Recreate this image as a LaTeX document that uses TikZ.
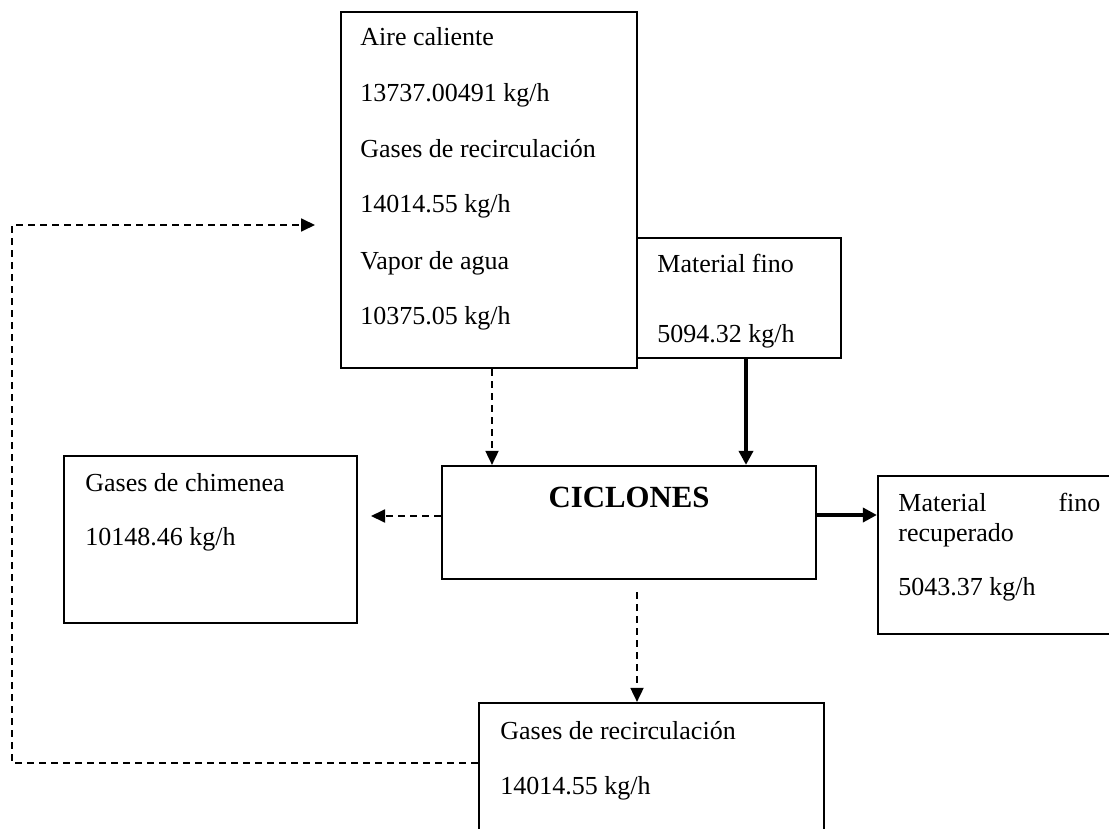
\documentclass[tikz,border=0pt]{standalone}
\usepackage{fontspec}
\setmainfont{Liberation Serif}
\usetikzlibrary{arrows.meta}
\tikzset{
  caja/.style={draw=black, line width=1.1pt, inner sep=0pt},
  txt/.style={anchor=base west, inner sep=0pt, font=\fontsize{13}{15}\selectfont},
  titulo/.style={anchor=base, inner sep=0pt, font=\fontsize{15.4}{18}\selectfont\bfseries},
  punt/.style={line width=0.9pt, dash pattern=on 3.5pt off 2.5pt, -{Triangle[length=7pt,width=6.5pt]}},
  grueso/.style={line width=1.9pt, -{Triangle[length=7pt,width=7pt]}},
}
\begin{document}
\begin{tikzpicture}[x=0.5pt,y=-0.5pt]
\useasboundingbox (0,0) rectangle (1109,829);
\clip (0,0) rectangle (1109,829);
% cajas
\node[caja, minimum width=148pt, minimum height=178pt] (aire) at (489,190) {};
\node[caja, minimum width=102pt, minimum height=60pt] (fino) at (739,298) {};
\node[caja, minimum width=187pt, minimum height=56.5pt] (ciclon) at (629,522.5) {};
\node[caja, minimum width=146.5pt, minimum height=83.5pt] (chimenea) at (210.5,539.5) {};
\node[caja, minimum width=117pt, minimum height=79pt] (recup) at (995,555) {};
\node[caja, minimum width=172.5pt, minimum height=88.5pt] (recirc) at (651.5,791.5) {};
% textos
\node[txt] (aire1) at (360,46) {Aire caliente};
\node[txt] (aire2) at (360,102) {13737.00491 kg/h};
\node[txt] (aire3) at (360,157) {Gases de recirculación};
\node[txt] (aire4) at (360,213) {14014.55 kg/h};
\node[txt] (aire5) at (360,269) {Vapor de agua};
\node[txt] (aire6) at (360,324) {10375.05 kg/h};
\node[txt] (fino1) at (657,272) {Material fino};
\node[txt] (fino2) at (657,342) {5094.32 kg/h};
\node[titulo] (ciclon1) at (629,507) {CICLONES};
\node[txt] (chim1) at (85,491) {Gases de chimenea};
\node[txt] (chim2) at (85,545) {10148.46 kg/h};
\node[txt, anchor=north west, text width=101pt, align=left] (recup1) at (898,493) {Material\hfill fino\\recuperado};
\node[txt] (recup2) at (898,595) {5043.37 kg/h};
\node[txt] (recirc1) at (500,739) {Gases de recirculación};
\node[txt] (recirc2) at (500,794) {14014.55 kg/h};
% flujos
\coordinate (salchim) at (371,516);
\coordinate (salrec) at (637,592);
\coordinate (lazo) at (12,763);
\coordinate (llega) at (315,225);
\draw[punt] ([xshift=1.5pt]aire.south) -- ([xshift=1.5pt]aire.south |- ciclon.north);
\draw[grueso] ([xshift=3.5pt]fino.south) -- ([xshift=3.5pt]fino.south |- ciclon.north);
\draw[grueso] ([yshift=3.75pt]ciclon.east) -- ([yshift=3.75pt]ciclon.east -| recup.west);
\draw[punt] (ciclon.west |- salchim) -- (salchim);
\draw[punt] (salrec) -- (salrec |- recirc.north);
\draw[punt] (recirc.west |- lazo) -- (lazo) |- (llega);
\end{tikzpicture}
\end{document}
